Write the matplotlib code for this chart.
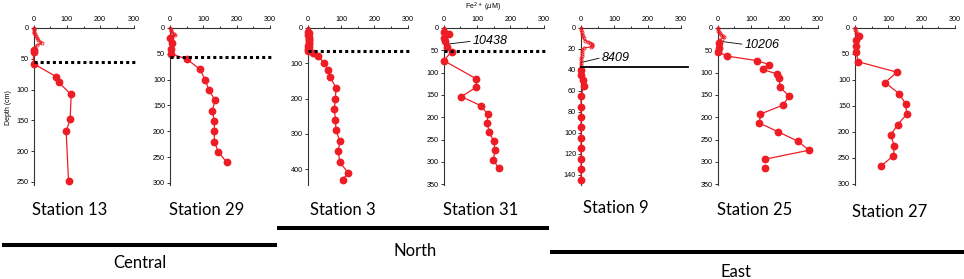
import matplotlib
matplotlib.use("Agg")
import matplotlib.pyplot as plt
from matplotlib.lines import Line2D

plt.rcParams['font.family'] = ['Liberation Sans', 'DejaVu Sans']

W, H = 964, 279

stations = ["Station 13", "Station 29", "Station 3", "Station 31",
            "Station 9", "Station 25", "Station 27"]

# near-surface high resolution profiles (small open symbols)
st13_top_depth = [0, 2, 4, 6, 8, 10, 13, 16, 19, 22, 25, 28]
st13_top_fe = [0, 0, 1, 1, 2, 3, 6, 10, 14, 20, 24, 10]
st29_top_depth = [0, 3, 6, 9, 12, 14]
st29_top_fe = [0, 2, 4, 6, 12, 16]
st3_top_depth = [0, 2, 4, 6, 8]
st3_top_fe = [0, 0, 1, 0, 1]
st31_top_depth = [0, 3, 6, 9]
st31_top_fe = [0, 0, 1, 0]
st9_top_depth = [0, 2, 4, 6, 8, 10, 12, 13, 14, 15, 16, 17, 18, 19, 21, 23, 25, 27, 29, 31, 33, 35]
st9_top_fe = [0, 1, 2, 4, 6, 8, 12, 20, 28, 32, 34, 33, 30, 10, 4, 3, 2, 2, 1, 1, 0, 0]
st25_top_depth = [0, 3, 6, 9, 12, 15, 18, 21, 24, 27]
st25_top_fe = [0, 1, 2, 4, 6, 10, 15, 18, 12, 5]
st27_top_depth = [0, 3, 6, 9, 12]
st27_top_fe = [0, 1, 2, 3, 5]

# core samples (filled symbols), Fe2+ in uM vs depth in cm
st13_depth = [35, 39, 58, 79, 88, 108, 148, 168, 248]
st13_fe = [0, 0, 0, 68, 75, 113, 110, 98, 105]
st29_depth = [20, 30, 40, 50, 60, 80, 100, 120, 140, 160, 180, 200, 220, 240, 260]
st29_fe = [0, 5, 2, 3, 50, 90, 105, 117, 135, 127, 133, 133, 133, 145, 170]
st3_depth = [10, 15, 20, 25, 30, 35, 40, 45, 50, 55, 60, 65, 70, 80, 100, 120, 140,
             170, 200, 230, 260, 290, 320, 350, 380, 410, 430]
st3_fe = [2, 3, 2, 4, 3, 5, 3, 4, 2, 3, 1, 2, 17, 32, 50, 61, 68,
          85, 83, 80, 83, 85, 96, 92, 96, 121, 105]
st31_depth = [10, 13, 22, 30, 43, 53, 73, 114, 133, 154, 174, 193, 213, 233, 254, 274, 295, 315]
st31_fe = [0, 17, 0, 3, 9, 24, 0, 98, 97, 53, 111, 132, 131, 136, 150, 154, 149, 165]
st9_depth = [40, 45, 50, 55, 65, 75, 85, 95, 105, 115, 125, 135, 145]
st9_fe = [0, 0, 7, 9, 0, 0, 0, 0, 0, 0, 0, 0, 0]
st25_depth = [33, 45, 54, 63, 73, 82, 93, 103, 113, 133, 153, 173, 193, 213, 233, 254, 274, 294]
st25_fe = [3, 3, 2, 28, 117, 155, 135, 178, 185, 187, 215, 195, 128, 125, 182, 241, 274, 143]
st27_depth = [15, 24, 35, 46, 65, 85, 105, 126, 146, 166, 186, 206, 227, 246, 266]
st27_fe = [12, 3, 3, 3, 10, 126, 90, 132, 152, 155, 128, 107, 118, 115, 77]

# samples not joined to the profile
st25_loose_depth = [314]
st25_loose_fe = [143]

# horizon depths (dotted lines) and the solid line at station 9
horizon_depth = [56, 57, 65, 52, None, None, None]
solid_depth = [None, None, None, None, 37, None, None]

# gravity core labels
core_label = [None, None, None, "10438", "8409", "10206", None]
core_depth = [None, None, None, 37, 33, 29, None]

regions = ["Central", "North", "East"]

top_depths = [st13_top_depth, st29_top_depth, st3_top_depth, st31_top_depth,
              st9_top_depth, st25_top_depth, st27_top_depth]
top_fes = [st13_top_fe, st29_top_fe, st3_top_fe, st31_top_fe,
           st9_top_fe, st25_top_fe, st27_top_fe]
depths = [st13_depth, st29_depth, st3_depth, st31_depth, st9_depth, st25_depth, st27_depth]
fes = [st13_fe, st29_fe, st3_fe, st31_fe, st9_fe, st25_fe, st27_fe]

# layout (pixels)
ax_left = [33.5, 170, 307.7, 443.7, 581, 717.7, 855]
ax_top, ax_bot = 28, 185
y_max = [255, 304, 445, 352, 150, 352, 302]
y_step = [50, 50, 100, 50, 20, 50, 50]
y_last = [250, 300, 400, 350, 140, 350, 300]
label_x = [70, 207, 343, 481, 616, 755, 890]
label_y = [210, 210, 210, 210, 208, 210, 212]
note_offset = [None, None, None, (21, 2.4), (15, 3.6), (19.5, -2.6), None]

red = '#ee1c24'
axc = '#333333'

fig = plt.figure(figsize=(W / 100, H / 100), dpi=100)


def fx(x):
    return x / W


def fy(y):
    return 1 - y / H


for i in range(7):
    ax = fig.add_axes([fx(ax_left[i]), fy(ax_bot), 100 / W, (ax_bot - ax_top) / H])
    ax.patch.set_visible(False)
    ax.set_xlim(0, 300)
    ax.set_ylim(y_max[i], 0)
    ax.xaxis.tick_top()
    ax.spines['right'].set_visible(False)
    ax.spines['bottom'].set_visible(False)
    ax.spines['top'].set_color(axc)
    ax.spines['left'].set_color(axc)
    ax.spines['top'].set_linewidth(0.8)
    ax.spines['left'].set_linewidth(0.8)
    ax.set_xticks([0, 100, 200, 300])
    ax.set_xticks([50, 150, 250], minor=True)
    ax.set_yticks(list(range(0, y_last[i] + 1, y_step[i])))
    ax.tick_params(labelsize=5.2, length=2.5, width=0.7, pad=1, colors=axc, labelcolor='black')
    ax.tick_params(which='minor', length=1.5, width=0.7, colors=axc)

    fe_all = top_fes[i] + fes[i]
    d_all = top_depths[i] + depths[i]
    ax.plot(fe_all, d_all, color=red, lw=0.9, clip_on=False, zorder=3)
    ax.plot(top_fes[i], top_depths[i], 'o', ms=2.2, mfc='none', mec=red, mew=0.6,
            clip_on=False, zorder=4)
    ax.plot(fes[i], depths[i], 'o', ms=4.6, color=red, mec=red, clip_on=False, zorder=4)
    if i == 5:
        ax.plot(st25_loose_fe, st25_loose_depth, 'o', ms=4.6, color=red, clip_on=False, zorder=4)

    if horizon_depth[i] is not None:
        ax.plot([0, 310], [horizon_depth[i]] * 2, color='black', lw=2.2,
                ls=(0, (1, 1)), clip_on=False, zorder=5)
    if solid_depth[i] is not None:
        ax.plot([0, 320], [solid_depth[i]] * 2, color='black', lw=1.3,
                clip_on=False, zorder=5)

    if core_label[i] is not None:
        ax.annotate(core_label[i], xy=(0, core_depth[i]), xytext=note_offset[i],
                    textcoords='offset points', ha='left', va='center',
                    fontsize=9, style='italic',
                    arrowprops=dict(arrowstyle='-', lw=0.6, color='black',
                                    shrinkA=0, shrinkB=0, relpos=(0, 0.5)))

    fig.text(fx(label_x[i]), fy(label_y[i]), stations[i], ha='center', va='center',
             fontsize=12, family=['Lato', 'DejaVu Sans'])

fig.text(fx(8), fy(108), "Depth (cm)", rotation=90, ha='center', va='center', fontsize=5)
fig.text(fx(483), fy(7), "Fe$^{2+}$ ($\\mu$M)", ha='center', va='center', fontsize=5)

# region bars
bar_x = [(2, 277), (277, 549), (550, 964)]
bar_y = [245, 228, 252]
region_x = [140, 415, 736]
region_y = [263, 251.5, 272]
for k in range(3):
    fig.add_artist(Line2D([fx(bar_x[k][0]), fx(bar_x[k][1])], [fy(bar_y[k])] * 2,
                          color='black', lw=2.9, solid_capstyle='butt'))
    fig.text(fx(region_x[k]), fy(region_y[k]), regions[k], ha='center', va='center',
             fontsize=12, family=['Lato', 'DejaVu Sans'])

fig.savefig("out.png", dpi=100)
